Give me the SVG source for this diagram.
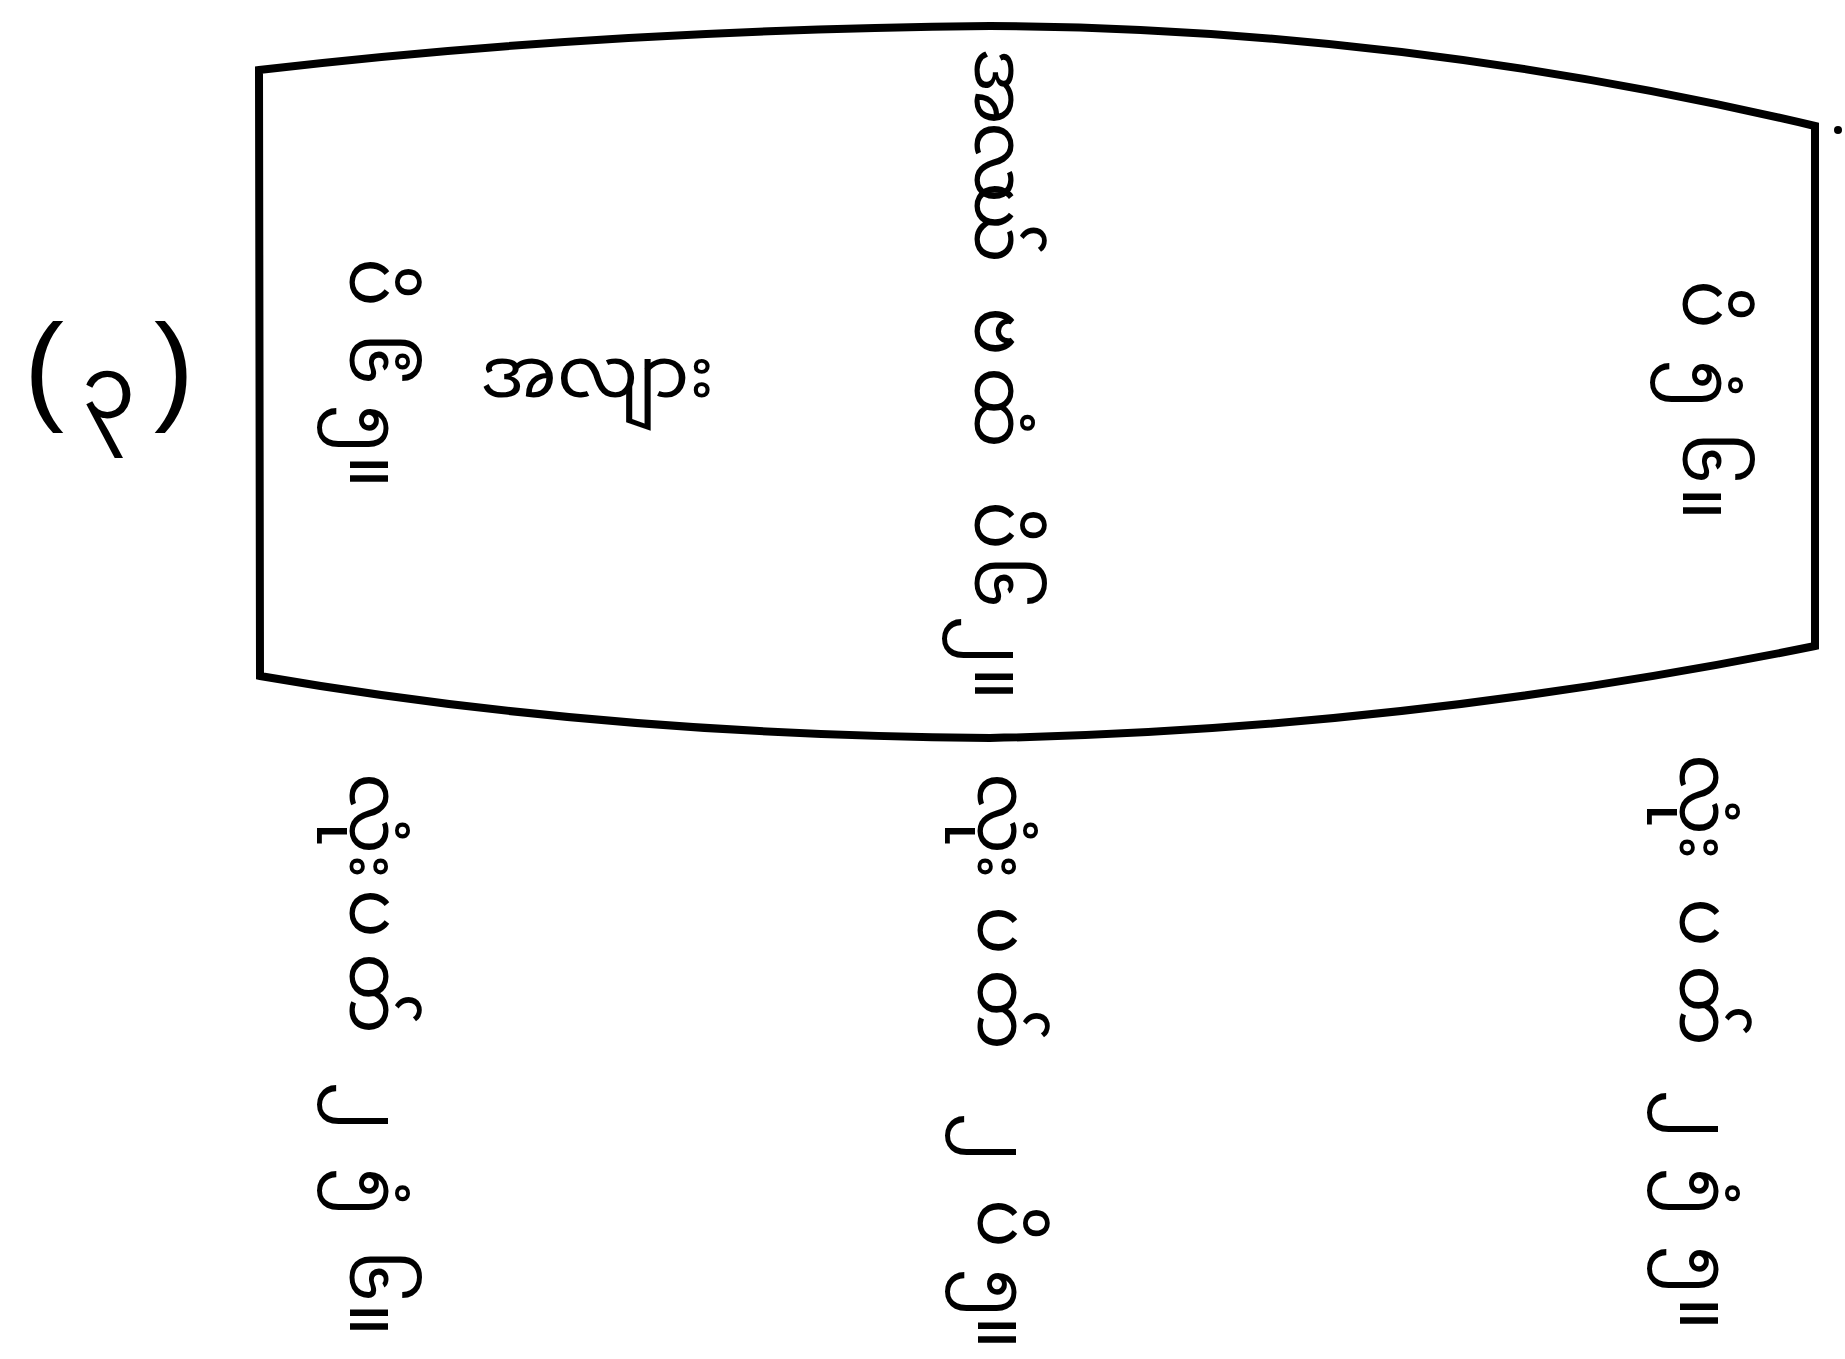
<svg xmlns="http://www.w3.org/2000/svg" width="1845" height="1359" viewBox="0 0 1845 1359">
<style>
.my{font-family:"Noto Sans Myanmar","Padauk","Myanmar Text","Myanmar3","Noto Sans","DejaVu Sans",sans-serif;font-size:72px;fill:#000}
.lb{font-family:"Noto Sans Myanmar","Padauk","Myanmar Text","Myanmar3","Noto Sans","DejaVu Sans",sans-serif;font-size:86px;fill:#000}
.par{font-family:"Liberation Sans","DejaVu Sans",sans-serif;font-size:120px;fill:#000}
.outline{fill:none;stroke:#000;stroke-width:8;stroke-linejoin:miter}
</style>
<rect width="1845" height="1359" fill="#fff"/>
<g id="shape">
<path class="outline" d="M259,70 Q600,30 990,26 Q1400,28 1815,126 L1815,646 Q1400,730 990,738 Q600,735 260,676 Z"/>
<circle cx="1838" cy="130" r="4" fill="#000"/>
</g>
<g id="label">
<text class="par" y="408"><tspan x="24">(</tspan><tspan x="154">)</tspan></text>
<text class="lb" x="82" y="418">၃</text>
</g>
<g id="length"><text class="my" x="480" y="397">အလျား</text></g>
<g id="colA"><text class="my" transform="translate(350,0) rotate(90)"><tspan x="258">ပိ</tspan><tspan x="333">၆ံ</tspan><tspan x="405">၅</tspan><tspan x="455">။</tspan></text></g>
<g id="colMid"><text class="my" transform="translate(975,0) rotate(90)"><tspan x="48">အ</tspan><tspan x="122">လ</tspan><tspan x="182">ယ်</tspan><tspan x="307">ဗ</tspan><tspan x="367">ထံ</tspan><tspan x="501">ပိ</tspan><tspan x="556">၆</tspan><tspan x="616">၂</tspan><tspan x="667">။</tspan></text></g>
<g id="colRT"><text class="my" transform="translate(1683,0) rotate(90)"><tspan x="280">ပိ</tspan><tspan x="360">၅ံ</tspan><tspan x="432">၆</tspan><tspan x="487">။</tspan></text></g>
<g id="colB1"><text class="my" transform="translate(350,0) rotate(90)"><tspan x="773">လုံး</tspan><tspan x="889">ပ</tspan><tspan x="953">တ်</tspan><tspan x="1082">၂</tspan><tspan x="1168">၅ံ</tspan><tspan x="1250">၆</tspan><tspan x="1303">။</tspan></text></g>
<g id="colB2"><text class="my" transform="translate(978,0) rotate(90)"><tspan x="773">လုံး</tspan><tspan x="906">ပ</tspan><tspan x="969">တ်</tspan><tspan x="1113">၂</tspan><tspan x="1199">ပိ</tspan><tspan x="1269">၅</tspan><tspan x="1316">။</tspan></text></g>
<g id="colB3"><text class="my" transform="translate(1680,0) rotate(90)"><tspan x="754">လုံး</tspan><tspan x="898">ပ</tspan><tspan x="965">တ်</tspan><tspan x="1090">၂</tspan><tspan x="1168">၅ံ</tspan><tspan x="1246">၅</tspan><tspan x="1297">။</tspan></text></g>
</svg>
